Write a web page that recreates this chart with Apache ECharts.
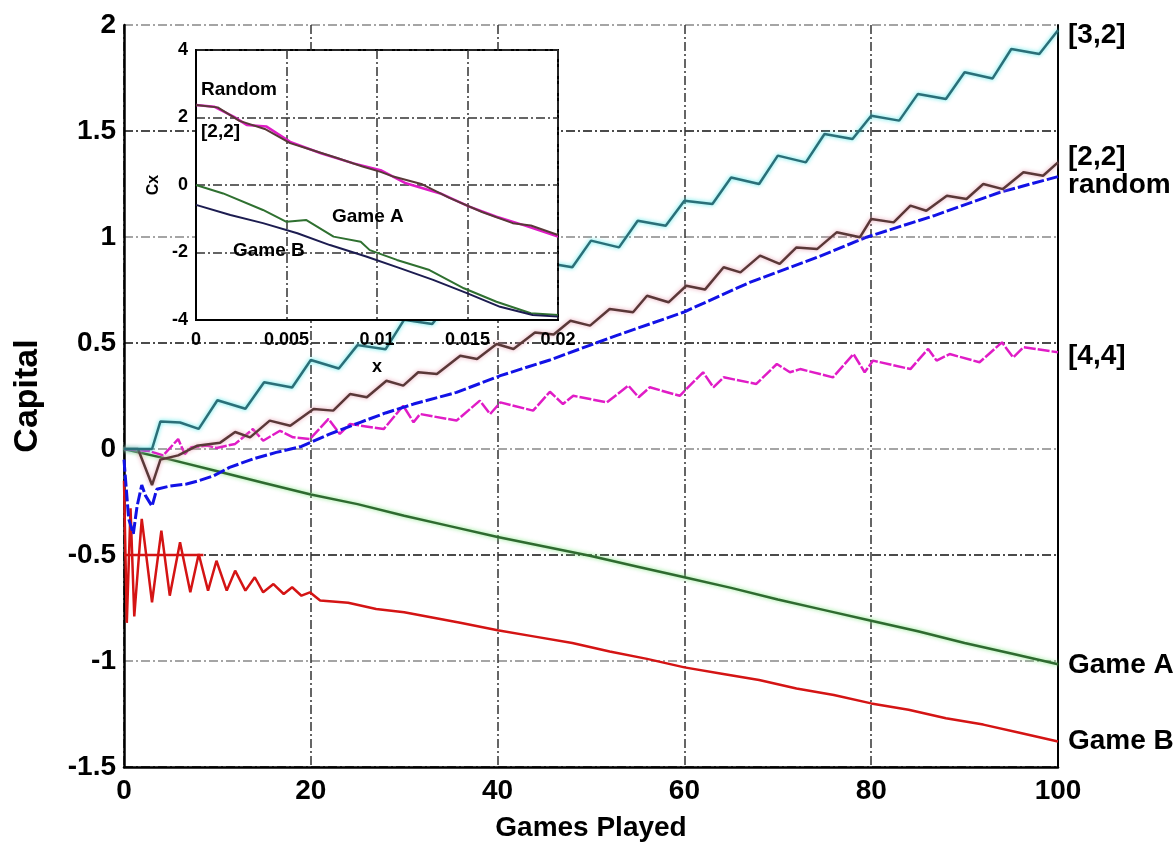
<!DOCTYPE html>
<html>
<head>
<meta charset="utf-8">
<script src="https://cdn.jsdelivr.net/npm/echarts@6/dist/echarts.min.js"></script>
<style>
  html, body { margin: 0; padding: 0; background: #fff; }
  #chart { width: 1173px; height: 850px; }
</style>
</head>
<body>
<div id="chart"></div>
<script>
// ---- main plot data: [game, capital] ----
const xTicks = [0, 20, 40, 60, 80, 100];
const yTicks = [-1.5, -1, -0.5, 0, 0.5, 1, 1.5, 2];

const strat32 = [
  [0, 0], [3, 0], [3.9, 0.13], [6, 0.125], [8, 0.095], [10, 0.23], [13, 0.19], [15, 0.315],
  [18, 0.29], [20, 0.42], [23, 0.38], [25, 0.49], [28, 0.47], [30, 0.61], [33, 0.59],
  [35, 0.7], [38, 0.68], [40, 0.79], [43, 0.76], [45, 0.88], [48, 0.857], [50, 0.983],
  [53, 0.951], [55, 1.077], [58, 1.053], [60, 1.171], [63, 1.156], [65, 1.281], [68, 1.25],
  [70, 1.384], [73, 1.352], [75, 1.486], [78, 1.462], [80, 1.572], [83, 1.549], [85, 1.675],
  [88, 1.651], [90, 1.777], [93, 1.748], [95, 1.887], [98, 1.863], [100, 1.975]
];

const strat22 = [
  [0, 0], [1.5, 0], [3, -0.17], [3.9, -0.05], [5.8, -0.03], [7.8, 0.015], [10.3, 0.03],
  [11.9, 0.08], [13.5, 0.055], [15.6, 0.134], [17.8, 0.11], [20.3, 0.189], [22.4, 0.181],
  [24.2, 0.259], [26, 0.244], [28.1, 0.322], [29.9, 0.299], [31.5, 0.362], [33.5, 0.354],
  [36, 0.44], [37.8, 0.425], [39.9, 0.495], [41.7, 0.472], [44, 0.55], [46, 0.54],
  [47.8, 0.605], [49.9, 0.582], [52, 0.66], [54.5, 0.645], [56, 0.723], [58.3, 0.692],
  [60.2, 0.77], [62.2, 0.752], [64.2, 0.857], [66, 0.833], [68.1, 0.912], [70.2, 0.873],
  [72, 0.951], [74.2, 0.943], [76.3, 1.022], [78.8, 0.999], [80, 1.085], [82.4, 1.069],
  [84.2, 1.148], [85.9, 1.124], [88.1, 1.195], [90.2, 1.179], [92, 1.25], [94.1, 1.226],
  [96.3, 1.305], [98.4, 1.289], [100, 1.352]
];

const randomMix = [
  [0, -0.05], [0.5, -0.33], [1, -0.4], [1.4, -0.27], [1.9, -0.17], [2.3, -0.22], [3, -0.27],
  [3.5, -0.19], [4.9, -0.175], [6.7, -0.165], [8, -0.15], [9.6, -0.126], [11.3, -0.087],
  [13.8, -0.047], [16.3, -0.016], [19, 0.012], [22, 0.07], [25.3, 0.126], [28, 0.17],
  [31, 0.212], [35.6, 0.267], [40.3, 0.346], [45.6, 0.42], [52.7, 0.535], [59.9, 0.645],
  [67, 0.786], [74.2, 0.904], [79.5, 0.999], [86.7, 1.1], [93.8, 1.211], [100, 1.285]
];

const strat44 = [
  [0, 0], [2.7, -0.01], [4.2, -0.03], [5.8, 0.047], [6.5, -0.024], [7.2, 0.008], [8.9, 0.016],
  [9.9, 0.005], [11.9, 0.024], [13.8, 0.094], [14.9, 0.039], [16.7, 0.086], [18.1, 0.055],
  [19.9, 0.047], [21.9, 0.142], [23.1, 0.071], [24.2, 0.118], [27.8, 0.094], [29.9, 0.204],
  [31, 0.126], [31.7, 0.165], [35.6, 0.134], [38.1, 0.228], [39.2, 0.165], [40.3, 0.22],
  [43.8, 0.181], [45.6, 0.27], [47, 0.212], [48.1, 0.251], [51.7, 0.22], [54, 0.299],
  [55.1, 0.244], [56.3, 0.291], [59.5, 0.251], [62, 0.362], [63.1, 0.291], [64.2, 0.338],
  [67.7, 0.307], [69.9, 0.401], [71.3, 0.362], [72.4, 0.377], [75.9, 0.338], [78.1, 0.448],
  [79.3, 0.362], [80.2, 0.417], [84.2, 0.377], [86.1, 0.472], [87, 0.417], [88.4, 0.448],
  [91.6, 0.409], [94, 0.503], [95.2, 0.432], [96.3, 0.48], [100, 0.456]
];

const gameA = [
  [0, 0], [5, -0.05], [10, -0.105], [15, -0.16], [20, -0.215], [25, -0.26], [30, -0.315],
  [35, -0.365], [40, -0.415], [45, -0.46], [50, -0.505], [55, -0.555], [60, -0.605],
  [65, -0.655], [70, -0.71], [75, -0.76], [80, -0.81], [85, -0.86], [90, -0.915],
  [95, -0.965], [100, -1.015]
];

const gameB = [
  [0, -0.15], [0.3, -0.82], [0.7, -0.28], [1.1, -0.79], [1.9, -0.33], [3, -0.723], [4, -0.385],
  [4.9, -0.692], [6, -0.44], [7.1, -0.676], [8, -0.495], [9, -0.668], [9.9, -0.527],
  [11, -0.668], [11.9, -0.574], [13, -0.668], [14, -0.605], [14.9, -0.676], [16, -0.637],
  [17.1, -0.684], [18, -0.652], [19, -0.692], [19.9, -0.676], [21, -0.715], [24, -0.725],
  [27, -0.755], [30, -0.77], [33, -0.795], [36, -0.82], [40, -0.855], [44, -0.885],
  [48, -0.915], [52, -0.955], [56, -0.99], [60, -1.03], [64, -1.06], [68, -1.09],
  [72, -1.13], [76, -1.16], [80, -1.2], [84, -1.23], [88, -1.27], [92, -1.3], [96, -1.34],
  [100, -1.38]
];
const gameBLevel = [[0, -0.5], [8.5, -0.5]];

// ---- inset data: [x, C] ----
const insetXTicks = [0, 0.005, 0.01, 0.015, 0.02];
const insetYTicks = [-4, -2, 0, 2, 4];

const insetRandom = [
  [0, 2.37], [0.001, 2.32], [0.0021, 2.02], [0.0028, 1.78], [0.0039, 1.73], [0.0052, 1.28],
  [0.0069, 0.94], [0.0087, 0.64], [0.0102, 0.44], [0.0116, 0.05], [0.0135, -0.25],
  [0.0151, -0.64], [0.0166, -0.94], [0.0181, -1.19], [0.02, -1.53]
];
const inset22 = [
  [0, 2.37], [0.0012, 2.3], [0.0024, 1.9], [0.0038, 1.66], [0.0052, 1.24], [0.0061, 1.09],
  [0.0078, 0.8], [0.0092, 0.55], [0.0102, 0.39], [0.0109, 0.25], [0.0125, 0.02],
  [0.014, -0.38], [0.0158, -0.8], [0.0175, -1.13], [0.0185, -1.2], [0.02, -1.48]
];
const insetGameA = [
  [0, 0], [0.0015, -0.25], [0.0037, -0.74], [0.005, -1.09], [0.0061, -1.04], [0.0076, -1.53],
  [0.0091, -1.68], [0.0096, -1.93], [0.0111, -2.22], [0.0129, -2.52], [0.0148, -3.06],
  [0.0166, -3.46], [0.0185, -3.8], [0.02, -3.85]
];
const insetGameB = [
  [0, -0.59], [0.0019, -0.89], [0.0037, -1.13], [0.0056, -1.43], [0.0074, -1.78],
  [0.0094, -2.12], [0.0113, -2.47], [0.0131, -2.81], [0.015, -3.21], [0.0168, -3.61],
  [0.0186, -3.85], [0.02, -3.9]
];

const FONT = '"Liberation Sans", Arial, Helvetica, sans-serif';
const dashDot = [9, 3, 2, 3];

const chart = echarts.init(document.getElementById('chart'), null, { renderer: 'canvas' });

function mainLine(name, data, color, halo, width, label, offset, dash) {
  return {
    name: name,
    type: 'line',
    xAxisIndex: 0,
    yAxisIndex: 0,
    data: data,
    symbol: 'none',
    z: 3,
    lineStyle: {
      color: color,
      width: width,
      type: dash || 'solid',
      shadowColor: halo,
      shadowBlur: halo ? 4 : 0
    },
    endLabel: label ? {
      show: true,
      formatter: label,
      color: '#000',
      fontFamily: FONT,
      fontSize: 28,
      fontWeight: 'bold',
      distance: 5,
      offset: offset
    } : { show: false }
  };
}

function insetLine(name, data, color, width) {
  return {
    name: name,
    type: 'line',
    xAxisIndex: 1,
    yAxisIndex: 1,
    zlevel: 1,
    z: 5,
    data: data,
    symbol: 'none',
    lineStyle: { color: color, width: width }
  };
}

const insetText = (text, left, top) => ({
  type: 'text',
  zlevel: 1,
  z: 100,
  left: left,
  top: top,
  style: { text: text, font: 'bold 19px ' + FONT, fill: '#000' }
});

const option = {
  animation: false,
  backgroundColor: '#fff',
  grid: [
    { left: 124, top: 25, width: 934, height: 742, containLabel: false, outerBoundsMode: 'none' },
    {
      left: 196, top: 50, width: 362, height: 270, containLabel: false, outerBoundsMode: 'none',
      show: true, backgroundColor: '#fff', borderColor: '#000', borderWidth: 2, zlevel: 1
    }
  ],
  xAxis: [
    {
      gridIndex: 0,
      type: 'value',
      min: xTicks[0],
      max: xTicks[xTicks.length - 1],
      interval: xTicks[1] - xTicks[0],
      name: 'Games Played',
      nameLocation: 'middle',
      nameGap: 47,
      nameTextStyle: { fontFamily: FONT, fontSize: 28, fontWeight: 'bold', color: '#000' },
      axisLine: { show: true, onZero: false, lineStyle: { color: '#000', width: 2.5 } },
      axisTick: { show: false },
      axisLabel: { fontFamily: FONT, fontSize: 28, fontWeight: 'bold', color: '#000', margin: 10 },
      splitLine: { show: true, lineStyle: { color: '#333', width: 1.5, type: dashDot } }
    },
    {
      gridIndex: 1,
      type: 'value',
      zlevel: 1,
      min: insetXTicks[0],
      max: insetXTicks[insetXTicks.length - 1],
      interval: insetXTicks[1] - insetXTicks[0],
      name: 'x',
      nameLocation: 'middle',
      nameGap: 38,
      nameTextStyle: { fontFamily: FONT, fontSize: 18, fontWeight: 'bold', color: '#000' },
      axisLine: { show: true, onZero: false, lineStyle: { color: '#000', width: 2 } },
      axisTick: { show: false },
      axisLabel: { fontFamily: FONT, fontSize: 18, fontWeight: 'bold', color: '#000', margin: 11 },
      splitLine: { show: true, lineStyle: { color: '#333', width: 1.5, type: dashDot } }
    }
  ],
  yAxis: [
    {
      gridIndex: 0,
      type: 'value',
      min: yTicks[0],
      max: yTicks[yTicks.length - 1],
      interval: yTicks[1] - yTicks[0],
      name: 'Capital',
      nameLocation: 'middle',
      nameGap: 79,
      nameTextStyle: { fontFamily: FONT, fontSize: 34, fontWeight: 'bold', color: '#000' },
      axisLine: { show: true, onZero: false, lineStyle: { color: '#000', width: 2.5 } },
      axisTick: { show: false },
      axisLabel: { fontFamily: FONT, fontSize: 28, fontWeight: 'bold', color: '#000', margin: 8 },
      splitLine: { show: true, lineStyle: { color: ['#111', '#888'], width: 1.5, type: dashDot } }
    },
    {
      gridIndex: 1,
      type: 'value',
      zlevel: 1,
      min: insetYTicks[0],
      max: insetYTicks[insetYTicks.length - 1],
      interval: insetYTicks[1] - insetYTicks[0],
      name: 'Cx',
      nameLocation: 'middle',
      nameGap: 34,
      nameTextStyle: { fontFamily: FONT, fontSize: 16, fontWeight: 'bold', color: '#000' },
      axisLine: { show: true, onZero: false, lineStyle: { color: '#000', width: 2 } },
      axisTick: { show: false },
      axisLabel: { fontFamily: FONT, fontSize: 18, fontWeight: 'bold', color: '#000', margin: 8 },
      splitLine: { show: true, lineStyle: { color: '#333', width: 1.5, type: dashDot } }
    },
    {
      // right-hand frame of the main plot
      gridIndex: 0,
      type: 'value',
      position: 'right',
      min: yTicks[0],
      max: yTicks[yTicks.length - 1],
      axisLine: { show: true, onZero: false, lineStyle: { color: '#000', width: 2 } },
      axisTick: { show: false },
      axisLabel: { show: false },
      splitLine: { show: false }
    }
  ],
  graphic: [
    insetText('Random', 201, 80),
    insetText('[2,2]', 201, 122),
    insetText('Game A', 332, 207),
    insetText('Game B', 233, 241)
  ],
  series: [
    mainLine('Game B level', gameBLevel, '#d41414', null, 2.5),
    mainLine('Game A', gameA, '#2f6a30', 'rgba(120,230,120,0.9)', 2.5, 'Game A', [5, 1]),
    mainLine('Game B', gameB, '#d41414', null, 2.5, 'Game B', [5, 0]),
    mainLine('[4,4]', strat44, '#e01cc6', null, 2.5, '[4,4]', [5, 4], [12, 2]),
    mainLine('random', randomMix, '#1212e6', null, 3, 'random', [5, 9], [12, 3]),
    mainLine('[2,2]', strat22, '#5a3838', 'rgba(230,150,170,0.9)', 2.5, '[2,2]', [5, -5]),
    mainLine('[3,2]', strat32, '#2b6f78', 'rgba(60,230,230,0.9)', 2.5, '[3,2]', [5, 5]),
    insetLine('Random', insetRandom, '#e01cc6', 2.5),
    insetLine('[2,2]', inset22, '#5a3838', 2),
    insetLine('Game A', insetGameA, '#2f7030', 2),
    insetLine('Game B', insetGameB, '#1c1c50', 2)
  ]
};

chart.setOption(option);
</script>
</body>
</html>
